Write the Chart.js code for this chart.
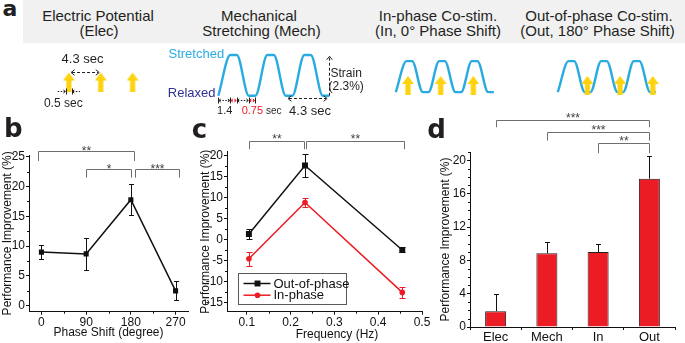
<!DOCTYPE html>
<html>
<head>
<meta charset="utf-8">
<title>Co-stimulation performance</title>
<script src="https://cdn.jsdelivr.net/npm/chart.js"></script>
<style>
  html, body { margin: 0; padding: 0; background: #ffffff; }
  #fig { position: relative; width: 685px; height: 343px; overflow: hidden;
         font-family: "Liberation Sans", Arial, Helvetica, sans-serif; color: #231f20; }
  #fig canvas { position: absolute; }
  #band { position: absolute; left: 23px; top: 0; width: 662px; height: 43px; background: #f1f1f2; }
  .t { position: absolute; white-space: nowrap; line-height: normal; }
  .letter { font-family: "DejaVu Sans", "Liberation Sans", Arial, sans-serif; font-weight: bold; }
</style>
</head>
<body>
<div id="fig">
  <div id="band"></div>
  <canvas id="elecWave" width="103" height="59" style="left:47px; top:51px"></canvas>
  <canvas id="mechWave" width="120" height="59" style="left:214px; top:51px"></canvas>
  <canvas id="inWave" width="120" height="59" style="left:385px; top:51px"></canvas>
  <canvas id="outWave" width="120" height="59" style="left:547px; top:51px"></canvas>
  <canvas id="phaseChart" width="200" height="233" style="left:0; top:110px"></canvas>
  <canvas id="freqChart" width="242" height="233" style="left:198px; top:110px"></canvas>
  <canvas id="modeChart" width="255" height="243" style="left:430px; top:100px"></canvas>
</div>
<script>
// ---- panel a: stimulation timing (seconds) ----
// one strain cycle: 1.4 s stretch, 0.75 s hold, 1.4 s release, 0.75 s rest
const strainTimes = [0, 1.4, 2.15, 3.55, 4.3, 5.7, 6.45, 7.85, 8.6, 10.0, 10.75, 12.15, 12.9];
const strainLevels = [0, 1, 1, 0, 0, 1, 1, 0, 0, 1, 1, 0, 0];
const elecPulses = [0, 4.3, 8.6];
const inPhasePulses = [1.6, 5.9, 10.2];
const outPhasePulses = [3.9, 8.2, 12.5];

// ---- panel b: phase shift ----
const phaseShifts = [0, 90, 180, 270];
const phaseImprovement = [9.0, 8.7, 17.8, 2.5];
const phaseError = [1.2, 2.7, 2.6, 1.6];
const phaseTicks = [0, 90, 180, 270];
const phaseYTicks = [0, 5, 10, 15, 20, 25];

// ---- panel c: frequency ----
const frequencies = [0.105, 0.233, 0.455];
const outPhaseImprovement = [1.4, 17.7, -2.4];
const outPhaseError = [1.3, 2.7, 0.6];
const inPhaseImprovement = [-4.5, 8.9, -12.5];
const inPhaseError = [1.7, 1.0, 1.3];
const freqTicks = [0.1, 0.2, 0.3, 0.4, 0.5];
const freqYTicks = [-15, -10, -5, 0, 5, 10, 15, 20];

// ---- panel d: stimulation mode ----
const modes = ["Elec", "Mech", "In", "Out"];
const modeImprovement = [1.9, 8.85, 9.0, 17.8];
const modeError = [2.1, 1.3, 1.0, 2.7];
const modeYTicks = [0, 4, 8, 12, 16, 20];

// significance brackets
const phaseBrackets = [
  { from: 0, to: 180, level: 25.9, foot: 24.3, stars: "**", dx: [-3, 3] },
  { from: 90, to: 180, level: 22.9, foot: 21.5, stars: "*", dx: [0, 0] },
  { from: 180, to: 270, level: 22.9, foot: 21.5, stars: "***", dx: [4, 3] }
];
const freqBrackets = [
  { from: 0.105, to: 0.233, level: 23.6, foot: 21.6, stars: "**", dx: [0, -1] },
  { from: 0.233, to: 0.455, level: 23.6, foot: 21.6, stars: "**", dx: [1, 2] }
];
const modeBrackets = [
  { from: "Elec", to: "Out", level: 24.85, foot: 23.97, stars: "***" },
  { from: "Mech", to: "Out", level: 23.45, foot: 22.37, stars: "***" },
  { from: "In", to: "Out", level: 22.05, foot: 20.85, stars: "**" }
];

const ink = "#111111";
const red = "#ec1c24";
const waveBlue = "#29abe2";
const pulseYellow = "#fdd20f";
const family = '"Liberation Sans", Arial, Helvetica, sans-serif';

Chart.defaults.font.family = family;
Chart.defaults.font.size = 12;
Chart.defaults.color = ink;

// ---------- plugins ----------
const errorBars = {
  id: "errorBars",
  beforeDatasetsDraw(chart, args, opts) {
    const ctx = chart.ctx;
    chart.data.datasets.forEach((ds, i) => {
      if (!ds.errors) return;
      const meta = chart.getDatasetMeta(i);
      const yScale = chart.scales[meta.yAxisID];
      ctx.save();
      ctx.strokeStyle = ds.errorColor || ds.borderColor;
      ctx.lineWidth = 1;
      meta.data.forEach((el, j) => {
        const raw = ds.data[j];
        const v = typeof raw === "object" ? raw.y : raw;
        const e = ds.errors[j];
        const x = Math.round(el.x) + 0.5;
        const top = Math.round(yScale.getPixelForValue(v + e)) + 0.5;
        const bottom = ds.errorUpOnly ? el.y : Math.round(yScale.getPixelForValue(v - e)) + 0.5;
        const half = (opts.cap || 6) / 2;
        ctx.beginPath();
        ctx.moveTo(x, bottom); ctx.lineTo(x, top);
        ctx.moveTo(x - half, top); ctx.lineTo(x + half, top);
        if (!ds.errorUpOnly) { ctx.moveTo(x - half, bottom); ctx.lineTo(x + half, bottom); }
        ctx.stroke();
      });
      ctx.restore();
    });
  }
};

const brackets = {
  id: "brackets",
  afterDraw(chart, args, opts) {
    if (!opts.items) return;
    const { ctx, scales: { x, y } } = chart;
    ctx.save();
    ctx.strokeStyle = "#6d6e71";
    ctx.fillStyle = "#414042";
    ctx.lineWidth = 1;
    ctx.font = "12px " + family;
    ctx.textAlign = "center";
    ctx.textBaseline = "alphabetic";
    opts.items.forEach(b => {
      const dx = b.dx || [0, 0];
      const x1 = Math.round(x.getPixelForValue(b.from) + dx[0]) + 0.5;
      const x2 = Math.round(x.getPixelForValue(b.to) + dx[1]) + 0.5;
      const yl = Math.round(y.getPixelForValue(b.level)) + 0.5;
      const yf = y.getPixelForValue(b.foot);
      ctx.beginPath();
      ctx.moveTo(x1, yf); ctx.lineTo(x1, yl); ctx.lineTo(x2, yl); ctx.lineTo(x2, yf);
      ctx.stroke();
      ctx.fillText(b.stars, (x1 + x2) / 2, yl + (opts.starDrop || 2));
    });
    ctx.restore();
  }
};

const minorTicks = {
  id: "minorTicks",
  afterDraw(chart, args, opts) {
    const ctx = chart.ctx;
    ctx.save();
    ctx.strokeStyle = ink;
    ctx.lineWidth = 1;
    ["x", "y"].forEach(id => {
      const step = opts[id];
      if (!step) return;
      const s = chart.scales[id];
      const majors = s.ticks.map(t => t.value);
      for (let v = Math.ceil(s.min / step) * step; v <= s.max + 1e-9; v += step) {
        if (majors.some(m => Math.abs(m - v) < step / 100)) continue;
        const p = Math.round(s.getPixelForValue(v)) + 0.5;
        ctx.beginPath();
        if (id === "x") { ctx.moveTo(p, s.top); ctx.lineTo(p, s.top + 2); }
        else { ctx.moveTo(s.right, p); ctx.lineTo(s.right - 2, p); }
        ctx.stroke();
      }
    });
    ctx.restore();
  }
};

const boxLegend = {
  id: "boxLegend",
  afterDraw(chart, args, opts) {
    if (!opts.width) return;
    const { ctx, chartArea } = chart;
    const x0 = Math.round(chartArea.left + opts.left) + 0.5;
    const y0 = Math.round(chartArea.bottom - opts.bottom - opts.height) + 0.5;
    ctx.save();
    ctx.strokeStyle = "#58595b";
    ctx.lineWidth = 1;
    ctx.strokeRect(x0, y0, opts.width, opts.height);
    ctx.font = "13px " + family;
    ctx.textBaseline = "middle";
    chart.data.datasets.forEach((ds, i) => {
      const yy = y0 + opts.rows[i];
      ctx.strokeStyle = ds.borderColor;
      ctx.fillStyle = ds.borderColor;
      ctx.lineWidth = ds.borderWidth;
      ctx.beginPath(); ctx.moveTo(x0 + 5, yy); ctx.lineTo(x0 + 32, yy); ctx.stroke();
      if (ds.pointStyle === "rect") {
        const h = ds.pointRadius * Math.SQRT1_2;
        ctx.fillRect(x0 + 19 - h, yy - h, 2 * h, 2 * h);
      } else {
        ctx.beginPath(); ctx.arc(x0 + 19, yy, ds.pointRadius, 0, Math.PI * 2); ctx.fill();
      }
      ctx.fillStyle = ink;
      ctx.fillText(ds.label, x0 + 35, yy + 0.5);
    });
    ctx.restore();
  }
};

function chevron(ctx, x, y, dir, size) {
  ctx.beginPath();
  if (dir === "right") { ctx.moveTo(x - size, y - size * 0.8); ctx.lineTo(x, y); ctx.lineTo(x - size, y + size * 0.8); }
  else if (dir === "left") { ctx.moveTo(x + size, y - size * 0.8); ctx.lineTo(x, y); ctx.lineTo(x + size, y + size * 0.8); }
  else { ctx.moveTo(x - size * 0.8, y + size); ctx.lineTo(x, y); ctx.lineTo(x + size * 0.8, y + size); }
  ctx.stroke();
}

// dashed timing arrows of the schematic
const sketchMarks = {
  id: "sketchMarks",
  afterDatasetsDraw(chart, args, opts) {
    const { ctx, scales: { x, y } } = chart;
    (opts.items || []).forEach(m => {
      ctx.save();
      ctx.strokeStyle = "#231f20";
      ctx.lineWidth = 1;
      if (m.kind === "span") {
        const x1 = x.getPixelForValue(m.from), x2 = x.getPixelForValue(m.to);
        const yy = Math.round(y.getPixelForValue(m.at)) + 0.5;
        ctx.setLineDash([3, 2]);
        ctx.beginPath(); ctx.moveTo(x1 + 1, yy); ctx.lineTo(x2 - 1, yy); ctx.stroke();
        ctx.setLineDash([]);
        chevron(ctx, x1, yy, "left", 3.5);
        chevron(ctx, x2, yy, "right", 3.5);
      } else if (m.kind === "rise") {
        const xx = Math.round(x.getPixelForValue(m.at)) + 0.5;
        const y1 = y.getPixelForValue(m.from), y2 = y.getPixelForValue(m.to);
        ctx.setLineDash([3, 2]);
        ctx.beginPath(); ctx.moveTo(xx, y1); ctx.lineTo(xx, y2 + 1); ctx.stroke();
        ctx.setLineDash([]);
        chevron(ctx, xx, y2, "up", 3.5);
      } else if (m.kind === "ruler") {
        const yy = Math.round(y.getPixelForValue(m.at)) + 0.5;
        for (let i = 0; i < m.times.length - 1; i++) {
          const a = x.getPixelForValue(m.times[i]), b = x.getPixelForValue(m.times[i + 1]);
          ctx.strokeStyle = m.colors[i % m.colors.length];
          ctx.setLineDash([1.5, 1.5]);
          ctx.beginPath(); ctx.moveTo(a + 1, yy); ctx.lineTo(b - 1, yy); ctx.stroke();
          ctx.setLineDash([]);
          chevron(ctx, a + 0.5, yy, "left", 2);
          chevron(ctx, b - 0.5, yy, "right", 2);
        }
        ctx.strokeStyle = "#231f20";
        m.times.forEach(t => {
          const xx = Math.round(x.getPixelForValue(t)) + 0.5;
          ctx.beginPath(); ctx.moveTo(xx, yy - 3); ctx.lineTo(xx, yy + 3); ctx.stroke();
        });
      } else if (m.kind === "gap") {
        const yy = Math.round(y.getPixelForValue(m.at)) + 0.5;
        const a = x.getPixelForValue(m.center - m.half), b = x.getPixelForValue(m.center + m.half);
        const a0 = x.getPixelForValue(m.center - m.half - m.tail), b0 = x.getPixelForValue(m.center + m.half + m.tail);
        ctx.setLineDash([1.5, 1.5]);
        ctx.beginPath(); ctx.moveTo(a0, yy); ctx.lineTo(a - 1, yy); ctx.moveTo(b + 1, yy); ctx.lineTo(b0, yy); ctx.stroke();
        ctx.setLineDash([]);
        chevron(ctx, a - 0.5, yy, "right", 2);
        chevron(ctx, b + 0.5, yy, "left", 2);
        [a, b].forEach(p => {
          const xx = Math.round(p) + 0.5;
          ctx.beginPath(); ctx.moveTo(xx, yy - 3); ctx.lineTo(xx, yy + 3); ctx.stroke();
        });
      }
      ctx.restore();
    });
  }
};

// ---------- panel a ----------
function makeArrow() {
  const c = document.createElement("canvas");
  c.width = 12; c.height = 19;
  const g = c.getContext("2d");
  g.fillStyle = pulseYellow;
  g.beginPath();
  g.moveTo(6, 0); g.lineTo(12, 8); g.lineTo(8.6, 8); g.lineTo(8.6, 19);
  g.lineTo(3.4, 19); g.lineTo(3.4, 8); g.lineTo(0, 8);
  g.closePath(); g.fill();
  return c;
}
const arrowImg = makeArrow();

function pulseSet(times, level) {
  return {
    data: times.map(t => ({ x: t, y: level })),
    showLine: false, pointStyle: arrowImg, pointRadius: 6, clip: false
  };
}
function strainSet() {
  return {
    data: strainTimes.map((t, i) => ({ x: t, y: strainLevels[i] })),
    borderColor: waveBlue, borderWidth: 2.4, pointRadius: 0,
    cubicInterpolationMode: "monotone", fill: false, clip: false
  };
}
function sketch(id, datasets, xmin, xmax, marks) {
  return new Chart(document.getElementById(id), {
    type: "line",
    data: { datasets },
    options: {
      responsive: false, animation: false, events: [],
      layout: { padding: 0 },
      scales: {
        x: { type: "linear", display: false, min: xmin, max: xmax },
        y: { type: "linear", display: false, min: -0.35, max: 1.1 }
      },
      plugins: { legend: { display: false }, tooltip: { enabled: false }, sketchMarks: { items: marks } }
    },
    plugins: [sketchMarks]
  });
}

sketch("elecWave", [pulseSet(elecPulses, 0.326)], -2, 10, [
  { kind: "span", from: 0.3, to: 4.1, at: 0.633 },
  { kind: "gap", center: 0, half: 0.4, tail: 1.1, at: 0.03 }
]);
sketch("mechWave", [strainSet()], -0.5, 13.45, [
  { kind: "ruler", times: strainTimes.slice(0, 5), colors: ["#231f20", red], at: -0.11 },
  { kind: "span", from: 8.1, to: 12.65, at: -0.055 },
  { kind: "rise", at: 12.85, from: 0, to: 0.97 }
]);
sketch("inWave", [pulseSet(inPhasePulses, 0.215), strainSet()], -0.5, 13.45, []);
sketch("outWave", [pulseSet(outPhasePulses, 0.215), strainSet()], -0.5, 13.45, []);

// ---------- axes helper for b, c, d ----------
function axis(o) {
  const a = {
    type: o.type || "linear",
    grid: { display: true, drawOnChartArea: false, tickLength: 3, tickColor: ink, tickWidth: 1 },
    border: { display: true, color: ink, width: 1 },
    ticks: { color: ink, padding: o.pad != null ? o.pad : 1, font: { size: o.fontSize || 12 }, autoSkip: false, maxRotation: 0 },
    afterFit: s => {
      if (o.width != null) s.width = o.width;
      if (o.height != null) s.height = o.height;
    }
  };
  if (o.min != null) a.min = o.min;
  if (o.max != null) a.max = o.max;
  if (o.format) a.ticks.callback = o.format;
  if (o.ticks) a.afterBuildTicks = s => { s.ticks = o.ticks.map(v => ({ value: v })); };
  if (o.title) a.title = { display: true, text: o.title, color: ink, font: { size: 12 }, padding: o.titlePad };
  return a;
}

// ---------- panel b ----------
new Chart(document.getElementById("phaseChart"), {
  type: "line",
  data: {
    datasets: [{
      label: "Phase shift",
      data: phaseShifts.map((p, i) => ({ x: p, y: phaseImprovement[i] })),
      errors: phaseError,
      borderColor: ink, backgroundColor: ink, borderWidth: 1.5,
      pointStyle: "rect", pointRadius: 3.6, pointBorderWidth: 0, tension: 0
    }]
  },
  options: {
    responsive: false, animation: false, events: [],
    layout: { padding: { top: 45, right: 12, left: 0, bottom: 0 } },
    scales: {
      x: axis({ min: -25, max: 295, ticks: phaseTicks, height: 31.3, pad: 1, format: v => String(v),
                title: "Phase Shift (degree)", titlePad: { top: 0, bottom: 3 } }),
      y: axis({ min: -1, max: 25.3, ticks: phaseYTicks, width: 29, format: v => String(v),
                title: "Performance Improvement (%)", titlePad: { top: 0, bottom: 0 } })
    },
    plugins: {
      legend: { display: false }, tooltip: { enabled: false },
      errorBars: { cap: 5 }, brackets: { items: phaseBrackets, starDrop: 3 }, minorTicks: { x: 45, y: 2.5 }
    }
  },
  plugins: [errorBars, brackets, minorTicks]
});

// ---------- panel c ----------
new Chart(document.getElementById("freqChart"), {
  type: "line",
  data: {
    datasets: [
      {
        label: "Out-of-phase",
        data: frequencies.map((f, i) => ({ x: f, y: outPhaseImprovement[i] })),
        errors: outPhaseError,
        borderColor: ink, backgroundColor: ink, borderWidth: 1.5,
        pointStyle: "rect", pointRadius: 4.2, pointBorderWidth: 0, tension: 0
      },
      {
        label: "In-phase",
        data: frequencies.map((f, i) => ({ x: f, y: inPhaseImprovement[i] })),
        errors: inPhaseError,
        borderColor: red, backgroundColor: red, borderWidth: 1.5,
        pointStyle: "circle", pointRadius: 2.8, pointBorderWidth: 0, tension: 0
      }
    ]
  },
  options: {
    responsive: false, animation: false, events: [],
    layout: { padding: { top: 41.7, right: 18, left: 0, bottom: 0 } },
    scales: {
      x: axis({ min: 0.055, max: 0.5, ticks: freqTicks, height: 31.3, pad: 1, format: v => v.toFixed(1) }),
      y: axis({ min: -17.1, max: 21, ticks: freqYTicks, width: 29, format: v => String(v),
                title: "Performance Improvement (%)", titlePad: { top: 0, bottom: 0 } })
    },
    plugins: {
      legend: { display: false }, tooltip: { enabled: false },
      errorBars: { cap: 6 }, brackets: { items: freqBrackets, starDrop: 1 }, minorTicks: { x: 0.05, y: 2.5 },
      boxLegend: { left: 11.3, bottom: 7.7, width: 108, height: 31, rows: [10, 21.7] }
    }
  },
  plugins: [errorBars, brackets, minorTicks, boxLegend]
});

// ---------- panel d ----------
new Chart(document.getElementById("modeChart"), {
  type: "bar",
  data: {
    labels: modes,
    datasets: [{
      label: "Performance",
      data: modeImprovement,
      errors: modeError, errorUpOnly: true, errorColor: ink,
      backgroundColor: red, borderColor: "#231f20", borderWidth: 1,
      barPercentage: 0.41, categoryPercentage: 1
    }]
  },
  options: {
    responsive: false, animation: false, events: [],
    layout: { padding: { top: 52, right: 10, left: 0, bottom: 0 } },
    scales: {
      x: axis({ type: "category", height: 16, pad: 0, fontSize: 13 }),
      y: axis({ min: 0, max: 21, ticks: modeYTicks, width: 40, format: v => String(v),
                title: "Performance Improvement (%)", titlePad: { top: 8, bottom: 0 } })
    },
    plugins: {
      legend: { display: false }, tooltip: { enabled: false },
      errorBars: { cap: 5 }, brackets: { items: modeBrackets, starDrop: 1 }, minorTicks: { y: 1 }
    }
  },
  plugins: [errorBars, brackets, minorTicks]
});

// ---------- text ----------
const fig = document.getElementById("fig");
function put(text, x, y, size, opts = {}) {
  const el = document.createElement("div");
  el.className = "t" + (opts.cls ? " " + opts.cls : "");
  el.textContent = text;
  el.style.left = x + "px";
  el.style.top = y + "px";
  el.style.fontSize = size + "px";
  if (opts.color) el.style.color = opts.color;
  el.style.transform = opts.left ? "translate(0, -50%)" : "translate(-50%, -50%)";
  fig.appendChild(el);
  return el;
}

put("a", 10, 8, 22, { cls: "letter" });
put("b", 13.3, 128.2, 26, { cls: "letter" });
put("c", 199.5, 129, 26, { cls: "letter" });
put("d", 436.5, 129, 26, { cls: "letter" });

put("Electric Potential", 98, 14.5, 15);
put("(Elec)", 99, 29.5, 15);
put("Mechanical", 259, 14.5, 15);
put("Stretching (Mech)", 261.5, 29.5, 15);
put("In-phase Co-stim.", 438, 15, 15);
put("(In, 0\u00b0 Phase Shift)", 438, 29.7, 15);
put("Out-of-phase Co-stim.", 599, 15, 15);
put("(Out, 180\u00b0 Phase Shift)", 597.5, 29.7, 15);

put("4.3 sec", 82.5, 57.5, 13);
put("0.5 sec", 63.3, 103, 12);
put("Stretched", 196.3, 53.2, 13, { color: waveBlue });
put("Relaxed", 191.7, 92.3, 13, { color: "#2e3192" });
put("Strain", 330.5, 72.5, 12, { left: true });
put("(2.3%)", 328.5, 86, 12, { left: true });
put("1.4", 224.7, 110.3, 11);
const rest = put("", 241.7, 110.3, 11, { left: true });
const restNum = document.createElement("span");
restNum.textContent = "0.75";
restNum.style.color = red;
const restUnit = document.createElement("span");
restUnit.textContent = " sec";
restUnit.style.fontSize = "10px";
rest.appendChild(restNum);
rest.appendChild(restUnit);
put("4.3 sec", 310, 110.3, 13);

// x-axis title of panel c sits right of the axis centre in the original
put("Frequency (Hz)", 337, 334, 12, { color: ink });
</script>
</body>
</html>
